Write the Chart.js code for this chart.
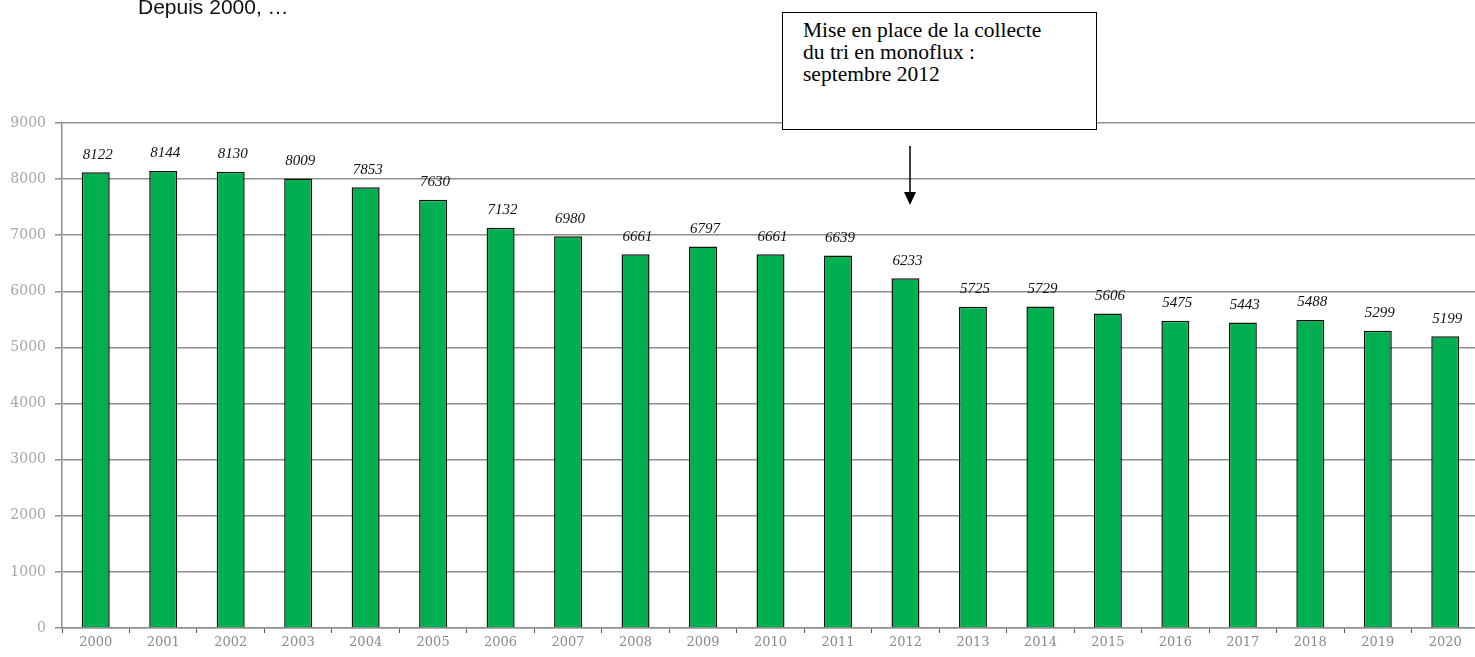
<!DOCTYPE html>
<html>
<head>
<meta charset="utf-8">
<script src="https://cdn.jsdelivr.net/npm/chart.js@4"></script>
<style>
    html, body { margin: 0; padding: 0; width: 1475px; height: 657px; overflow: hidden; background: #fff; }
    #wrap { position: absolute; left: 0; top: 0; width: 1490px; height: 657px; }
    #intro { position: absolute; left: 138px; top: -5px; font-family: Arial, "Liberation Sans", sans-serif; font-size: 21px; color: #111; }
    #note { position: absolute; left: 782px; top: 12px; width: 315px; height: 118px; border: 1.5px solid #000; background: #fff;
            font-family: "Liberation Serif", "Times New Roman", serif; font-size: 21.5px; line-height: 22px; color: #000; box-sizing: border-box; padding: 6px 0 0 20px; z-index: 2; }
    #arrow { position: absolute; left: 902px; top: 146px; z-index: 2; }
</style>
</head>
<body>
<div id="wrap"><canvas id="chart" width="1490" height="657"></canvas></div>
<div id="intro">Depuis 2000, …</div>
<div id="note">Mise en place de la collecte<br>du tri en monoflux :<br>septembre 2012</div>
<svg id="arrow" width="16" height="62">
    <line x1="8" y1="0" x2="8" y2="48" stroke="#000" stroke-width="1.5"/>
    <polygon points="2,46 14,46 8,59" fill="#000"/>
</svg>
<script>
    // Tonnages par année
    const annees = ['2000', '2001', '2002', '2003', '2004', '2005', '2006', '2007', '2008', '2009', '2010',
        '2011', '2012', '2013', '2014', '2015', '2016', '2017', '2018', '2019', '2020'];
    const tonnages = [8122, 8144, 8130, 8009, 7853, 7630, 7132, 6980, 6661, 6797, 6661,
        6639, 6233, 5725, 5729, 5606, 5475, 5443, 5488, 5299, 5199];
    const yMax = 9000;
    const yStep = 1000;

    const gris = '#8f8f8f';

    // Etiquettes de valeurs au-dessus des barres
    const valeursPlugin = {
        id: 'valeurs',
        afterDatasetsDraw(chart) {
            const ctx = chart.ctx;
            const meta = chart.getDatasetMeta(0);
            ctx.save();
            ctx.font = 'italic 15px "Liberation Serif", "Times New Roman", serif';
            ctx.fillStyle = '#111';
            ctx.textAlign = 'center';
            ctx.textBaseline = 'bottom';
            meta.data.forEach((bar, i) => {
                ctx.fillText(String(tonnages[i]), bar.x + 2, bar.y - 10);
            });
            ctx.restore();
        }
    };

    new Chart(document.getElementById('chart').getContext('2d'), {
        type: 'bar',
        data: {
            labels: annees,
            datasets: [{
                data: tonnages,
                backgroundColor: '#00b050',
                borderColor: '#111',
                borderWidth: 1.5,
                barPercentage: 0.415,
                categoryPercentage: 1
            }]
        },
        options: {
            responsive: false,
            animation: false,
            layout: { padding: { top: 123, right: 11, left: 0, bottom: 0 } },
            plugins: {
                legend: { display: false },
                tooltip: { enabled: false }
            },
            scales: {
                x: {
                    grid: { drawOnChartArea: false, drawTicks: true, tickLength: 5, color: '#555', offset: true },
                    border: { display: true, color: gris, width: 1.5 },
                    ticks: {
                        color: '#8a8a8a',
                        padding: 2,
                        font: { family: '"DejaVu Serif", "Liberation Serif", serif', size: 13 }
                    },
                    afterFit(scale) { scale.height = 29; }
                },
                y: {
                    min: 0,
                    max: yMax,
                    ticks: {
                        stepSize: yStep,
                        color: '#a6a6a6',
                        padding: 9,
                        font: { family: '"DejaVu Serif", "Liberation Serif", serif', size: 14 },
                        callback: (v) => String(v)
                    },
                    grid: { color: gris, lineWidth: 1.5, tickLength: 7 },
                    border: { display: true, color: gris, width: 1.5 },
                    afterFit(scale) { scale.width = 62; }
                }
            }
        },
        plugins: [valeursPlugin]
    });
</script>
</body>
</html>
